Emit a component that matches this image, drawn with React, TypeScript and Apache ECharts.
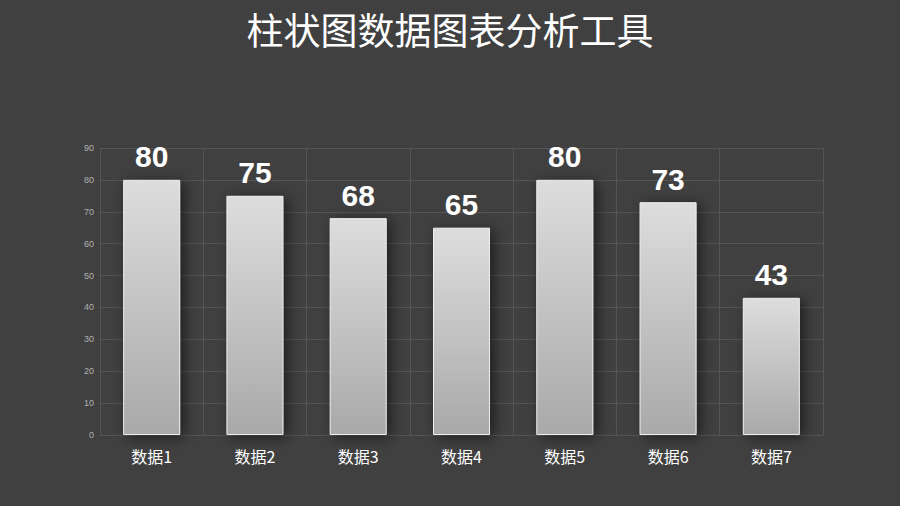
import React, { useEffect, useRef } from "react";
import * as echarts from "echarts";

const categories = ["数据1", "数据2", "数据3", "数据4", "数据5", "数据6", "数据7"];
const values = [80, 75, 68, 65, 80, 73, 43];
const title = "柱状图数据图表分析工具";

export default function App() {
  const ref = useRef<HTMLDivElement>(null);
  useEffect(() => {
    const chart = echarts.init(ref.current!, null, { renderer: "svg" });
    chart.setOption({
      animation: false,
      backgroundColor: "#404040",
      title: {
        text: title,
        left: "center",
        top: 5,
        textStyle: {
          color: "#ffffff",
          fontSize: 37,
          fontWeight: "normal",
          fontFamily: "Noto Sans CJK SC",
        },
      },
      grid: { left: 100, right: 77, top: 148, bottom: 71, containLabel: false },
      xAxis: {
        type: "category",
        data: categories,
        boundaryGap: true,
        axisLine: { show: true, lineStyle: { color: "#555555", width: 1 } },
        axisTick: { show: false },
        splitLine: { show: true, lineStyle: { color: "#555555", width: 1 } },
        axisLabel: {
          color: "#ffffff",
          fontSize: 16,
          margin: 13,
          fontFamily: "Noto Sans CJK SC",
        },
      },
      yAxis: {
        type: "value",
        min: 0,
        max: 90,
        interval: 10,
        axisLine: { show: true, lineStyle: { color: "#555555" } },
        axisTick: { show: false },
        splitLine: { show: true, lineStyle: { color: "#555555", width: 1 } },
        axisLabel: {
          color: "#b0b0b0",
          fontSize: 9,
          margin: 6,
          fontFamily: "Liberation Sans",
        },
      },
      series: [
        {
          type: "bar",
          data: values,
          barWidth: 57,
          itemStyle: {
            color: new echarts.graphic.LinearGradient(0, 0, 0, 1, [
              { offset: 0, color: "#dddddd" },
              { offset: 1, color: "#a9a9a9" },
            ]),
            borderColor: "#eeeeee",
            borderWidth: 1,
            shadowColor: "rgba(0,0,0,0.55)",
            shadowBlur: 14,
            shadowOffsetX: 4,
            shadowOffsetY: 2,
          },
          label: {
            show: true,
            position: "top",
            distance: 8,
            color: "#ffffff",
            fontSize: 30,
            fontWeight: "bold",
            fontFamily: "Liberation Sans",
          },
        },
      ],
    });
    return () => chart.dispose();
  }, []);
  return (
    <div
      ref={ref}
      style={{ position: "absolute", left: 0, top: 0, width: 900, height: 506 }}
    />
  );
}
